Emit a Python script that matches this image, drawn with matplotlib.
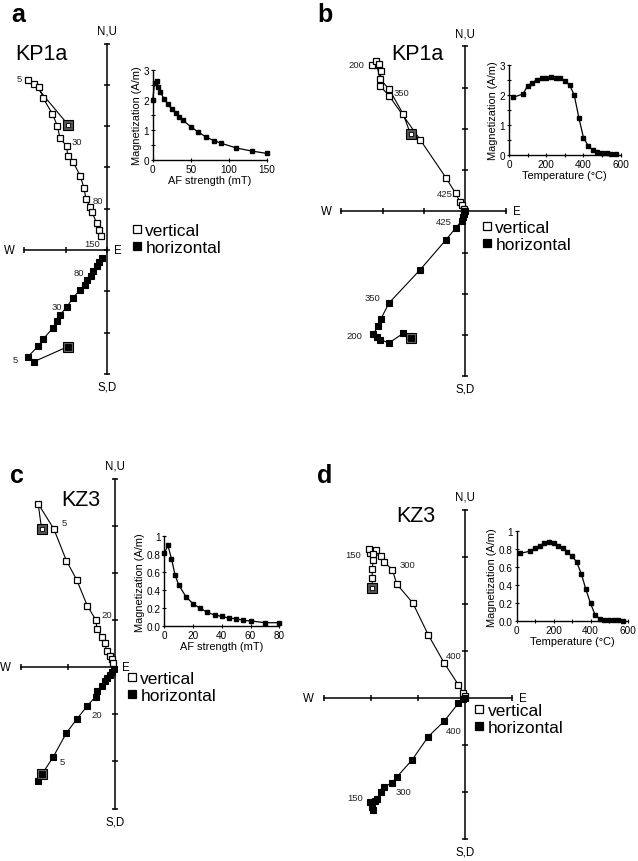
import matplotlib
matplotlib.use('Agg')
import matplotlib.pyplot as plt
from matplotlib.lines import Line2D

plt.rcParams['font.family'] = ['Liberation Sans', 'DejaVu Sans']

# ---- Zijderveld data (tick units), first point = NRM ----
# panel a: KP1a, AF
a_vert_x = [-0.94, -1.76, -1.92, -1.65, -1.54, -1.32, -1.20, -1.14, -0.98, -0.95, -0.82,
            -0.65, -0.56, -0.51, -0.41, -0.36, -0.25, -0.19, -0.15]
a_vert_y = [3.03, 4.01, 4.12, 3.95, 3.67, 3.29, 3.00, 2.71, 2.52, 2.28, 2.13,
            1.80, 1.51, 1.24, 1.04, 0.91, 0.65, 0.48, 0.35]
a_hor_x = [-0.95, -1.76, -1.91, -1.66, -1.54, -1.31, -1.20, -1.14, -0.98, -0.83,
           -0.65, -0.53, -0.48, -0.39, -0.33, -0.25, -0.19, -0.13]
a_hor_y = [-2.34, -2.70, -2.58, -2.32, -2.15, -1.89, -1.71, -1.57, -1.39, -1.17,
           -0.96, -0.84, -0.72, -0.62, -0.50, -0.39, -0.30, -0.19]
a_labels = [('5', -2.13, 4.16), ('30', -0.72, 2.62), ('80', -0.21, 1.19), ('150', -0.35, 0.16),
            ('80', -0.68, -0.54), ('30', -1.22, -1.37), ('5', -2.21, -2.64)]

# panel b: KP1a, thermal
b_vert_x = [-1.32, -1.50, -1.84, -2.06, -2.14, -2.25, -2.16, -2.08, -2.04, -2.06, -1.84,
            -1.09, -0.46, -0.23, -0.12, -0.07, -0.02]
b_vert_y = [1.87, 2.36, 2.96, 3.21, 3.55, 3.55, 3.65, 3.57, 3.40, 3.04, 2.80,
            1.74, 0.81, 0.44, 0.23, 0.16, 0.06]
b_hor_x = [-1.31, -1.50, -1.84, -2.06, -2.14, -2.22, -2.10, -2.04, -1.84, -1.09,
           -0.46, -0.23, -0.08, -0.06, -0.02, 0.0]
b_hor_y = [-3.07, -2.96, -3.19, -3.11, -3.05, -2.97, -2.77, -2.61, -2.22, -1.42,
           -0.69, -0.41, -0.23, -0.15, -0.07, 0.0]
b_labels = [('200', -2.64, 3.57), ('350', -1.55, 2.87), ('425', -0.48, 0.44),
            ('425', -0.51, -0.24), ('350', -2.25, -2.08), ('200', -2.67, -3.00)]

# panel c: KZ3, AF
c_vert_x = [-1.56, -1.63, -1.30, -1.03, -0.81, -0.59, -0.41, -0.38, -0.27, -0.21,
            -0.18, -0.11, -0.07, -0.04]
c_vert_y = [2.94, 3.47, 2.94, 2.26, 1.85, 1.31, 1.01, 0.81, 0.64, 0.51,
            0.35, 0.25, 0.18, 0.10]
c_hor_x = [-1.56, -1.64, -1.31, -1.03, -0.81, -0.59, -0.41, -0.38, -0.28, -0.21,
           -0.16, -0.11, -0.06, -0.02]
c_hor_y = [-2.27, -2.41, -1.90, -1.39, -1.10, -0.82, -0.62, -0.50, -0.39, -0.30,
           -0.23, -0.16, -0.09, -0.04]
c_labels = [('5', -1.08, 3.08), ('20', -0.18, 1.12), ('20', -0.38, -1.01), ('5', -1.11, -2.00)]

# panel d: KZ3, thermal
d_vert_x = [-1.97, -1.97, -1.97, -1.95, -2.02, -2.03, -1.89, -1.95, -1.78, -1.71,
            -1.54, -1.45, -1.11, -0.78, -0.44, -0.14, -0.04, 0.0]
d_vert_y = [2.34, 2.54, 2.74, 2.92, 3.07, 3.16, 3.15, 3.06, 3.01, 2.88,
            2.72, 2.42, 2.02, 1.34, 0.74, 0.28, 0.11, 0.04]
d_hor_x = [-1.97, -2.02, -1.95, -1.91, -1.86, -1.79, -1.71, -1.56, -1.45, -1.12,
           -0.78, -0.44, -0.14, -0.04, 0.0]
d_hor_y = [-2.31, -2.21, -2.37, -2.18, -2.14, -2.00, -1.88, -1.81, -1.68, -1.31,
           -0.82, -0.49, -0.11, -0.02, 0.01]
d_labels = [('150', -2.37, 3.04), ('300', -1.23, 2.83), ('400', -0.23, 0.91),
            ('400', -0.23, -0.69), ('300', -1.30, -1.98), ('150', -2.34, -2.11)]

# ---- demagnetization curves ----
af_a = [0, 2.5, 5, 7.5, 10, 15, 20, 25, 30, 35, 40, 50, 60, 70, 80, 90, 110, 130, 150]
mag_a = [1.99, 2.58, 2.63, 2.45, 2.26, 2.04, 1.86, 1.70, 1.57, 1.45, 1.32, 1.11, 0.93,
         0.77, 0.65, 0.56, 0.40, 0.30, 0.22]
temp_b = [20, 75, 100, 125, 150, 175, 200, 225, 250, 275, 300, 325, 350, 375, 400,
          425, 450, 475, 500, 525, 550, 575]
mag_b = [1.92, 2.03, 2.31, 2.41, 2.51, 2.56, 2.58, 2.60, 2.57, 2.56, 2.47, 2.33, 2.01,
         1.25, 0.58, 0.31, 0.17, 0.11, 0.07, 0.07, 0.04, 0.03]
af_c = [0, 2.5, 5, 7.5, 10, 15, 20, 25, 30, 35, 40, 45, 50, 55, 60, 70, 80]
mag_c = [0.81, 0.90, 0.75, 0.57, 0.46, 0.33, 0.25, 0.20, 0.155, 0.125, 0.11, 0.09,
         0.085, 0.065, 0.06, 0.04, 0.04]
temp_d = temp_b
mag_d = [0.755, 0.78, 0.815, 0.84, 0.865, 0.88, 0.865, 0.84, 0.81, 0.765, 0.725, 0.66,
         0.53, 0.355, 0.20, 0.07, 0.025, 0.02, 0.02, 0.015, 0.01, 0.005]

W, H = 638, 862
fig = plt.figure(figsize=(W / 100, H / 100), dpi=100)


def px_axes(left, top, right, bottom):
    return fig.add_axes([left / W, 1 - bottom / H, (right - left) / W, (bottom - top) / H])


def ftext(x, y, s, **kw):
    fig.text(x / W, 1 - y / H, s, **kw)


def zijd(origin, s, xr, yr, vx, vy, hx, hy, labels, legend_px, mark_hor_nrm=True):
    ox, oy = origin
    ax = px_axes(ox + xr[0] * s, oy - yr[1] * s, ox + xr[1] * s, oy - yr[0] * s)
    ax.set_xlim(xr)
    ax.set_ylim(yr)
    ax.axis('off')
    ax.plot(xr, [0, 0], color='k', lw=1.1, clip_on=False)
    ax.plot([0, 0], yr, color='k', lw=1.1, clip_on=False)
    xt = list(range(xr[0], xr[1] + 1))
    yt = list(range(yr[0], yr[1] + 1))
    ax.plot(xt, [0] * len(xt), ls='none', marker='|', ms=5, mew=1.1, color='k', clip_on=False)
    ax.plot([0] * len(yt), yt, ls='none', marker='_', ms=5, mew=1.1, color='k', clip_on=False)
    lab = dict(fontsize=8.3, ha='center', va='center', textcoords='offset points')
    ax.annotate('N,U', (0, yr[1]), xytext=(0, 9.4), **lab)
    ax.annotate('S,D', (0, yr[0]), xytext=(0, -9), **lab)
    ax.annotate('W', (xr[0], 0), xytext=(-10.8, 0), **lab)
    ax.annotate('E', (xr[1], 0), xytext=(7.6, 0), **lab)

    ax.plot(vx, vy, color='k', lw=0.8, marker='s', ms=3.9, mfc='white', mec='k', mew=0.9,
            clip_on=False, zorder=3)
    ax.plot(hx, hy, color='k', lw=0.8, marker='s', ms=4.3, mfc='k', mec='k', mew=0.8,
            clip_on=False, zorder=3)
    # NRM (first step) highlighted
    ax.plot(vx[0], vy[0], marker='s', ms=7, mfc='#555555', mec='k', mew=0.8, zorder=4, clip_on=False)
    ax.plot(vx[0], vy[0], marker='s', ms=3, mfc='white', mec='k', mew=0.6, zorder=5, clip_on=False)
    if mark_hor_nrm:
        ax.plot(hx[0], hy[0], marker='s', ms=7, mfc='#666666', mec='k', mew=0.8, zorder=4, clip_on=False)
        ax.plot(hx[0], hy[0], marker='s', ms=3.8, mfc='k', mec='k', mew=0.6, zorder=5, clip_on=False)
    for t, x, y in labels:
        ax.text(x, y, t, fontsize=6.8, ha='center', va='center', color='#222222')

    handles = [Line2D([], [], ls='none', marker='s', ms=5.5, mfc='white', mec='k', mew=0.9),
               Line2D([], [], ls='none', marker='s', ms=5.5, mfc='k', mec='k', mew=0.9)]
    ax.legend(handles, ['vertical', 'horizontal'], loc='upper left',
              bbox_to_anchor=(legend_px[0] / W, 1 - legend_px[1] / H),
              bbox_transform=fig.transFigure, frameon=False, fontsize=12.5,
              handlelength=0.6, handletextpad=0.2, labelspacing=0.12,
              borderpad=0, borderaxespad=0)
    return ax


def inset(box, x, y, xlim, ylim, xmaj, xminor, ymaj, ylabels, yminor, xlabel):
    ax = px_axes(*box)
    ax.plot(x, y, color='k', lw=0.9, marker='s', ms=3, clip_on=False, zorder=3)
    ax.set_xlim(xlim)
    ax.set_ylim(ylim)
    for sp in ['top', 'right']:
        ax.spines[sp].set_visible(False)
    for sp in ['left', 'bottom']:
        ax.spines[sp].set_linewidth(1.0)
    ax.set_xticks(xmaj)
    ax.set_xticks(xminor, minor=True)
    ax.set_yticks(ymaj)
    ax.set_yticklabels(ylabels)
    ax.set_yticks(yminor, minor=True)
    ax.tick_params(which='both', direction='inout', length=3.5, width=0.8, labelsize=7.2, pad=1)
    ax.set_xlabel(xlabel, fontsize=7.9, labelpad=0.5)
    ax.set_ylabel('Magnetization (A/m)', fontsize=7.9, labelpad=1)
    return ax


# panel a
zijd((107, 251), 41.3, (-2, 0), (-3, 5), a_vert_x, a_vert_y, a_hor_x, a_hor_y, a_labels, (131.5, 224))
ftext(11, 21.7, 'a', fontsize=18, fontweight='bold', va='baseline')
ftext(15, 60, 'KP1a', fontsize=15.5, va='baseline')
inset((152.7, 71, 266.7, 161), af_a, mag_a, (0, 150), (0, 3), [0, 50, 100, 150], [],
      [0, 1, 2, 3], ['0', '1', '2', '3'], [0.5, 1.5, 2.5], 'AF strength (mT)')

# panel b
zijd((465, 212.3), 41.25, (-3, 1), (-4, 4), b_vert_x, b_vert_y, b_hor_x, b_hor_y, b_labels, (481.5, 221))
ftext(317, 21.7, 'b', fontsize=18, fontweight='bold', va='baseline')
ftext(391.7, 60, 'KP1a', fontsize=15.5, va='baseline')
inset((509, 66, 620.7, 156), temp_b, mag_b, (0, 600), (0, 3), [0, 200, 400, 600], [100, 300, 500],
      [0, 1, 2, 3], ['0', '1', '2', '3'], [0.5, 1.5, 2.5], 'Temperature (°C)')

# panel c
zijd((115, 668.3), 47.1, (-2, 0), (-3, 4), c_vert_x, c_vert_y, c_hor_x, c_hor_y, c_labels, (126.5, 672))
ftext(10, 483.3, 'c', fontsize=18, fontweight='bold', va='baseline')
ftext(61.7, 506, 'KZ3', fontsize=15.5, va='baseline')
inset((164.3, 537.3, 279.3, 627.3), af_c, mag_c, (0, 80), (0, 1), [0, 20, 40, 60, 80], [],
      [0, 0.2, 0.4, 0.6, 0.8, 1.0], ['0.0', '0.2', '0.4', '0.6', '0.8', '1'], [], 'AF strength (mT)')

# panel d
zijd((465, 699), 47.1, (-3, 1), (-3, 4), d_vert_x, d_vert_y, d_hor_x, d_hor_y, d_labels, (473.8, 704),
     mark_hor_nrm=False)
ftext(317, 483.3, 'd', fontsize=18, fontweight='bold', va='baseline')
ftext(396.7, 521.7, 'KZ3', fontsize=15.5, va='baseline')
inset((516.5, 532.3, 627.5, 622.3), temp_d, mag_d, (0, 600), (0, 1), [0, 200, 400, 600], [100, 300, 500],
      [0, 0.2, 0.4, 0.6, 0.8, 1.0], ['0.0', '0.2', '0.4', '0.6', '0.8', '1'], [], 'Temperature (°C)')

fig.savefig('out.png', dpi=100)
